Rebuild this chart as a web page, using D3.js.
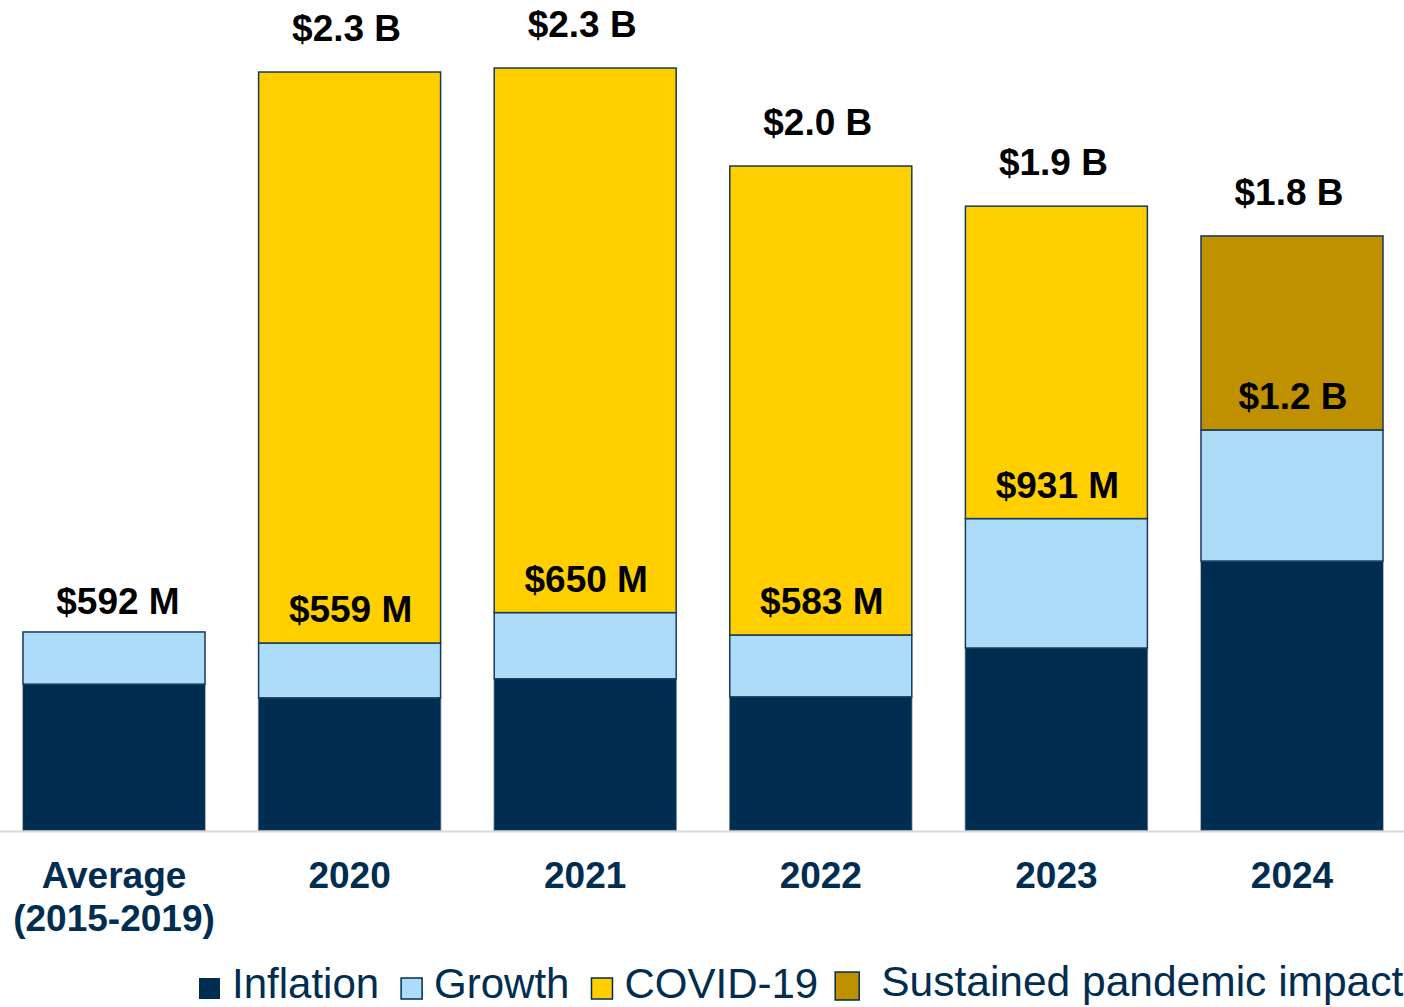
<!DOCTYPE html>
<html><head><meta charset="utf-8">
<script src="https://cdn.jsdelivr.net/npm/d3@7"></script>
<style>html,body{margin:0;padding:0;background:#fff;overflow:hidden}svg{display:block}</style>
</head><body>
<svg id="chart" width="1404" height="1007"></svg>
<script>
const categories = ["Average\n(2015-2019)", "2020", "2021", "2022", "2023", "2024"];
const inflation  = [436, 395, 452, 398, 544, 804];
const growth     = [156, 164, 198, 185, 387, 392];
const covid      = [0, 1707, 1628, 1402, 934, 0];
const sustained  = [0, 0, 0, 0, 0, 580];
const innerLabels = ["", "$559 M", "$650 M", "$583 M", "$931 M", "$1.2 B"];
const totalLabels = ["$592 M", "$2.3 B", "$2.3 B", "$2.0 B", "$1.9 B", "$1.8 B"];
const seriesNames = ["Inflation", "Growth", "COVID-19", "Sustained pandemic impact"];
const seriesColors = ["#002d50", "#addcf8", "#ffcf00", "#bf9000"];

const svg = d3.select("#chart");
const font = "'Liberation Sans', Arial, sans-serif";
const navy = "#002d50";
const baseY = 830;

const x = d3.scaleBand().domain(categories).range([-3.8, 1409.8]).paddingInner(0.2275).paddingOuter(0.11375);
const y = d3.scaleLinear().domain([0, 2500]).range([baseY, baseY - 2500 * 0.3345]);

const rows = categories.map((c, i) => ({cat: c, Inflation: inflation[i], Growth: growth[i], "COVID-19": covid[i], "Sustained pandemic impact": sustained[i]}));
const stack = d3.stack().keys(seriesNames)(rows);

// axis line
svg.append("line").attr("x1", 0).attr("x2", 1404).attr("y1", baseY + 1.5).attr("y2", baseY + 1.5)
  .attr("stroke", "#d9d9d9").attr("stroke-width", 2);

stack.forEach((layer, li) => {
  svg.append("g").selectAll("rect").data(layer.filter(d => d[1] - d[0] > 0)).join("rect")
    .attr("x", d => x(d.data.cat))
    .attr("width", x.bandwidth())
    .attr("y", d => y(d[1]))
    .attr("height", d => y(d[0]) - y(d[1]))
    .attr("fill", seriesColors[li])
    .attr("stroke", li === 0 ? "#1c3d5e" : "#17395c")
    .attr("stroke-width", 1.5)
    .attr("stroke-opacity", li === 0 ? 0.5 : 1);
});

const fs = 37;

// inner labels (above growth)
categories.forEach((c, i) => {
  if (!innerLabels[i]) return;
  svg.append("text")
    .attr("x", x(c) + x.bandwidth() / 2 + 1)
    .attr("y", y(inflation[i] + growth[i]) - 21)
    .attr("text-anchor", "middle")
    .attr("font-family", font).attr("font-weight", "bold").attr("font-size", fs)
    .attr("fill", "#000").text(innerLabels[i]);
});

// totals
categories.forEach((c, i) => {
  const tot = inflation[i] + growth[i] + covid[i] + sustained[i];
  svg.append("text")
    .attr("x", x(c) + x.bandwidth() / 2 + (i === 0 ? 4 : -3))
    .attr("y", y(tot) - (i === 0 ? 18 : 31))
    .attr("text-anchor", "middle")
    .attr("font-family", font).attr("font-weight", "bold").attr("font-size", fs)
    .attr("fill", "#000").text(totalLabels[i]);
});

// x axis labels
categories.forEach(c => {
  const lines = c.split("\n");
  const t = svg.append("text")
    .attr("x", x(c) + x.bandwidth() / 2)
    .attr("y", 888)
    .attr("text-anchor", "middle")
    .attr("font-family", font).attr("font-weight", "bold").attr("font-size", fs)
    .attr("fill", navy);
  lines.forEach((l, k) => t.append("tspan").attr("x", x(c) + x.bandwidth() / 2).attr("dy", k === 0 ? 0 : 43).text(l));
});

// legend
const lg = svg.append("g");
let lx = 199;
seriesNames.forEach((n, i) => {
  const last = i === seriesNames.length - 1;
  const sy = last ? 972 : 978;
  lg.append("rect").attr("x", lx).attr("y", sy).attr("width", last ? 24 : 21).attr("height", last ? 28 : 21)
    .attr("fill", seriesColors[i]).attr("stroke", navy).attr("stroke-width", i === 0 ? 0 : 1.5);
  const tx = lx + (last ? 46 : 33);
  const t = lg.append("text").attr("x", tx).attr("y", last ? 996 : 998)
    .attr("font-family", font).attr("font-size", last ? 42.5 : 42).attr("fill", navy).text(n);
  const w = t.node().getComputedTextLength();
  lx = tx + w + (i === 2 ? 17 : 22);
});
</script>
</body></html>
